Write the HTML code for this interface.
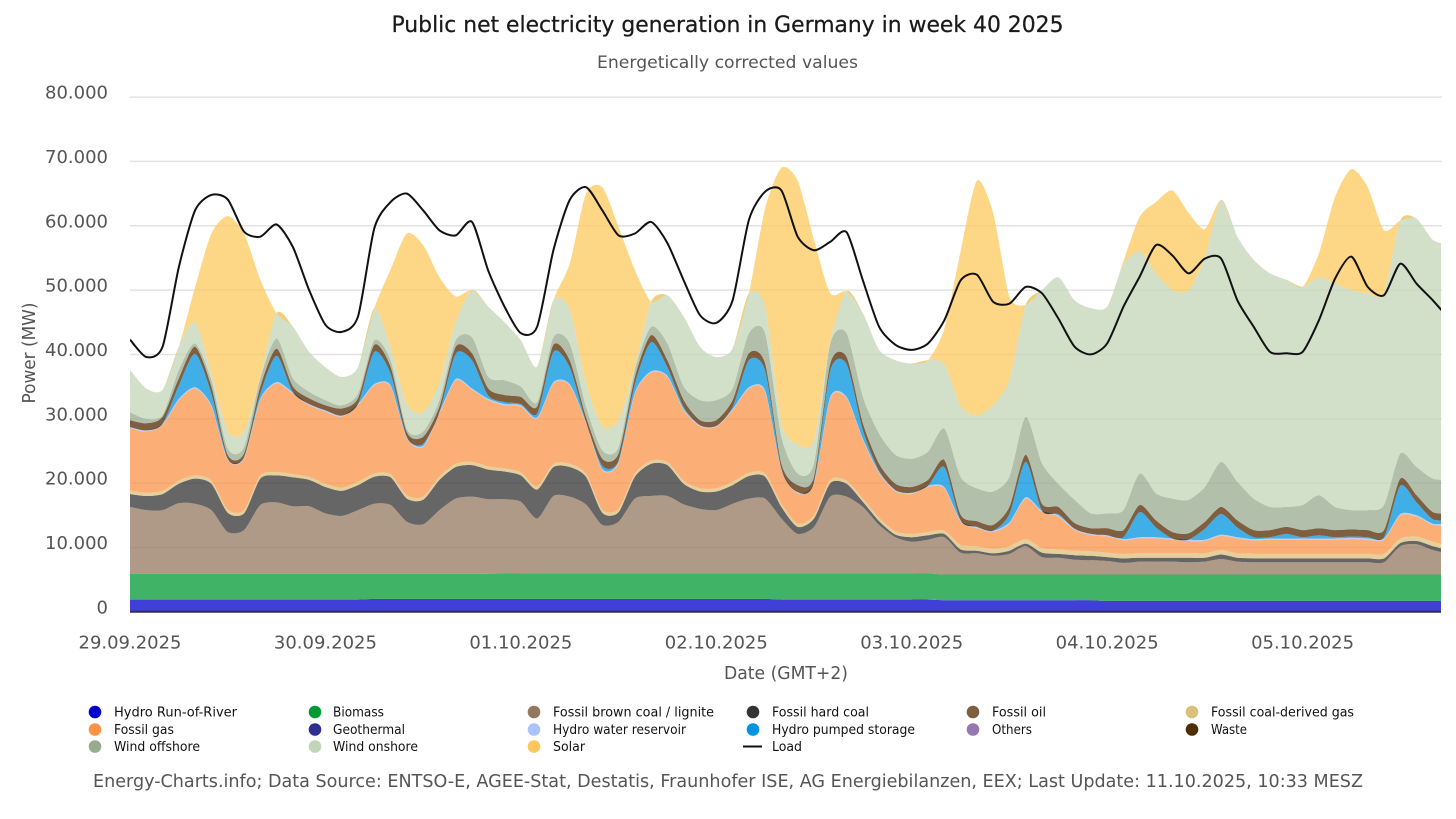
<!DOCTYPE html>
<html lang="en">
<head>
<meta charset="utf-8">
<title>Public net electricity generation in Germany in week 40 2025</title>
<style>
html,body{margin:0;padding:0;background:#fff;width:1456px;height:819px;overflow:hidden}
svg{display:block;font-family:"DejaVu Sans","Liberation Sans",sans-serif}
.leg{font-size:13.5px;fill:#111}
</style>
</head>
<body>
<svg id="chart" xmlns="http://www.w3.org/2000/svg" width="1456" height="819" viewBox="0 0 1456 819">
  <defs><clipPath id="plot-clip"><rect x="130" y="80" width="1311" height="531"/></clipPath></defs>
  <rect x="0" y="0" width="1456" height="819" fill="#fff"/>
  <text x="727.5" y="32" text-anchor="middle" font-size="22.5" fill="#1a1a1a" stroke="#1a1a1a" stroke-width="0.25" textLength="672" lengthAdjust="spacingAndGlyphs">Public net electricity generation in Germany in week 40 2025</text>
  <text x="727.5" y="68" text-anchor="middle" font-size="17" fill="#555" textLength="261" lengthAdjust="spacingAndGlyphs">Energetically corrected values</text>
  <g id="grid"></g>
  <g id="areas" clip-path="url(#plot-clip)"></g>
  <g id="line" clip-path="url(#plot-clip)"></g>
  <line x1="130" x2="1441" y1="611.8" y2="611.8" stroke="#333" stroke-width="2"/>
  <g id="yticks"></g>
  <g id="xticks"></g>
  <text transform="translate(35,353) rotate(-90)" text-anchor="middle" font-size="17.5" fill="#555" textLength="101" lengthAdjust="spacingAndGlyphs">Power (MW)</text>
  <text x="786" y="679" text-anchor="middle" font-size="17.5" fill="#555" textLength="124" lengthAdjust="spacingAndGlyphs">Date (GMT+2)</text>

  <g>
    <g><circle cx="95" cy="712" r="6.3" fill="#0000cc"/><text class="leg" x="114" y="716.5" textLength="123" lengthAdjust="spacingAndGlyphs">Hydro Run-of-River</text></g>
    <g><circle cx="315" cy="712" r="6.3" fill="#009933"/><text class="leg" x="333" y="716.5" textLength="51" lengthAdjust="spacingAndGlyphs">Biomass</text></g>
    <g><circle cx="534" cy="712" r="6.3" fill="#93785d"/><text class="leg" x="553" y="716.5" textLength="161" lengthAdjust="spacingAndGlyphs">Fossil brown coal / lignite</text></g>
    <g><circle cx="753" cy="712" r="6.3" fill="#333333"/><text class="leg" x="772" y="716.5" textLength="97" lengthAdjust="spacingAndGlyphs">Fossil hard coal</text></g>
    <g><circle cx="973" cy="712" r="6.3" fill="#7d5f42"/><text class="leg" x="992" y="716.5" textLength="54" lengthAdjust="spacingAndGlyphs">Fossil oil</text></g>
    <g><circle cx="1192" cy="712" r="6.3" fill="#dcbf79"/><text class="leg" x="1211" y="716.5" textLength="143" lengthAdjust="spacingAndGlyphs">Fossil coal-derived gas</text></g>

    <g><circle cx="95" cy="729.5" r="6.3" fill="#f99348"/><text class="leg" x="114" y="734" textLength="60" lengthAdjust="spacingAndGlyphs">Fossil gas</text></g>
    <g><circle cx="315" cy="729.5" r="6.3" fill="#2f2f8f"/><text class="leg" x="333" y="734" textLength="72" lengthAdjust="spacingAndGlyphs">Geothermal</text></g>
    <g><circle cx="534" cy="729.5" r="6.3" fill="#aac4ff"/><text class="leg" x="553" y="734" textLength="133" lengthAdjust="spacingAndGlyphs">Hydro water reservoir</text></g>
    <g><circle cx="753" cy="729.5" r="6.3" fill="#0094e0"/><text class="leg" x="772" y="734" textLength="143" lengthAdjust="spacingAndGlyphs">Hydro pumped storage</text></g>
    <g><circle cx="973" cy="729.5" r="6.3" fill="#9478b0"/><text class="leg" x="992" y="734" textLength="40" lengthAdjust="spacingAndGlyphs">Others</text></g>
    <g><circle cx="1192" cy="729.5" r="6.3" fill="#4f2d00"/><text class="leg" x="1211" y="734" textLength="36" lengthAdjust="spacingAndGlyphs">Waste</text></g>

    <g><circle cx="95" cy="746.5" r="6.3" fill="#98ab8f"/><text class="leg" x="114" y="751" textLength="86" lengthAdjust="spacingAndGlyphs">Wind offshore</text></g>
    <g><circle cx="315" cy="746.5" r="6.3" fill="#c3d5b8"/><text class="leg" x="333" y="751" textLength="85" lengthAdjust="spacingAndGlyphs">Wind onshore</text></g>
    <g><circle cx="534" cy="746.5" r="6.3" fill="#fcc85d"/><text class="leg" x="553" y="751" textLength="32" lengthAdjust="spacingAndGlyphs">Solar</text></g>
    <g><line x1="743" x2="762" y1="746.5" y2="746.5" stroke="#111" stroke-width="2"/><text class="leg" x="772" y="751" textLength="30" lengthAdjust="spacingAndGlyphs">Load</text></g>
  </g>

  <text x="93" y="787" font-size="17.5" fill="#555" textLength="1270" lengthAdjust="spacingAndGlyphs">Energy-Charts.info; Data Source: ENTSO-E, AGEE-Stat, Destatis, Fraunhofer ISE, AG Energiebilanzen, EEX; Last Update: 11.10.2025, 10:33 MESZ</text>
</svg>
<script>
// All series values are in GW, one sample every two hours from 29.09.2025 00:00.
const sampleStepHours = 2;
const yTickValues = [0, 10, 20, 30, 40, 50, 60, 70, 80];
const yTickLabels = ['0', '10.000', '20.000', '30.000', '40.000', '50.000', '60.000', '70.000', '80.000'];
const xTickHours = [0, 24, 48, 72, 96, 120, 144];
const xTickLabels = ['29.09.2025', '30.09.2025', '01.10.2025', '02.10.2025', '03.10.2025', '04.10.2025', '05.10.2025'];

const hydroRunOfRiver = [
1.9,1.9,1.9,1.9,1.9,1.9,1.9,1.9,1.9,1.9,
1.9,1.9,1.9,1.9,1.9,2.0,2.0,2.0,2.0,2.0,
2.0,2.0,2.0,2.0,2.0,2.0,2.0,2.0,2.0,2.0,
2.0,2.0,2.0,2.0,2.0,2.0,2.0,2.0,2.0,2.0,
1.9,1.9,1.9,1.9,1.9,1.9,1.9,1.9,1.9,1.9,
1.8,1.8,1.8,1.8,1.8,1.8,1.8,1.8,1.8,1.8,
1.7,1.7,1.7,1.7,1.7,1.7,1.7,1.7,1.7,1.7,
1.7,1.7,1.7,1.7,1.7,1.7,1.7,1.7,1.7,1.7,
1.7,1.7];
const biomass = [
4.0,4.0,4.0,4.0,4.0,4.0,4.0,4.0,4.0,4.0,
4.0,4.0,4.0,4.0,4.0,3.9,3.9,3.9,3.9,3.9,
3.9,3.9,3.9,4.0,4.0,4.0,4.0,4.0,4.0,4.0,
4.0,4.0,4.0,4.0,4.0,4.0,4.0,4.0,4.0,4.0,
4.1,4.1,4.1,4.1,4.1,4.1,4.1,4.1,4.1,4.1,
4.0,4.0,4.0,4.0,4.0,4.0,4.0,4.0,4.0,4.0,
4.1,4.1,4.1,4.1,4.1,4.1,4.1,4.1,4.1,4.1,
4.1,4.1,4.1,4.1,4.1,4.1,4.1,4.1,4.1,4.1,
4.1,4.1];
const brownCoal = [
10.4,9.9,9.9,11.0,10.9,9.9,6.5,6.8,10.7,11.1,
10.5,10.5,9.4,9.0,9.9,10.9,10.7,8.1,7.7,9.9,
11.7,12.0,11.6,11.5,11.1,8.5,12.0,11.9,10.7,7.5,
8.0,11.6,12.0,12.0,10.7,10.0,9.8,10.8,11.6,11.6,
8.5,6.1,7.2,11.9,11.9,10.3,7.5,5.6,4.9,5.2,
5.8,3.4,3.3,2.9,3.2,4.4,2.7,2.6,2.3,2.2,
2.1,1.8,2.0,2.0,2.0,1.9,2.0,2.4,2.0,1.9,
1.9,1.9,1.9,1.9,1.9,1.9,1.9,1.9,4.4,4.7,
3.8,3.2];
const hardCoal = [
2.0,2.2,2.5,3.0,3.9,4.1,3.0,2.6,4.1,4.2,
4.5,4.1,4.1,3.9,3.9,4.2,4.3,3.6,3.8,4.7,
4.9,4.9,4.6,4.3,4.1,4.5,4.5,4.6,4.3,1.9,
1.5,3.4,5.0,4.8,3.2,2.7,2.9,2.9,3.5,3.4,
1.8,1.1,1.3,2.1,2.0,0.8,0.6,0.4,0.7,0.7,
0.5,0.5,0.4,0.4,0.5,0.4,0.7,0.6,0.7,0.7,
0.6,0.7,0.6,0.6,0.6,0.7,0.6,0.7,0.6,0.6,
0.6,0.6,0.6,0.6,0.6,0.6,0.6,0.6,0.5,0.5,
0.6,0.6];
const coalDerivedGas = [
0.5,0.5,0.5,0.5,0.5,0.5,0.5,0.5,0.5,0.5,
0.5,0.5,0.5,0.5,0.5,0.5,0.5,0.5,0.5,0.5,
0.5,0.5,0.5,0.5,0.5,0.5,0.5,0.5,0.5,0.5,
0.5,0.5,0.5,0.5,0.5,0.5,0.5,0.5,0.5,0.5,
0.5,0.5,0.5,0.5,0.5,0.5,0.5,0.5,0.5,0.5,
0.5,0.7,0.7,0.7,0.7,0.7,0.7,0.7,0.7,0.7,
0.7,0.7,0.7,0.7,0.7,0.7,0.7,0.7,0.7,0.7,
0.7,0.7,0.7,0.7,0.7,0.7,0.7,0.7,0.7,0.7,
0.7,0.7];
const fossilGas = [
9.7,9.5,10.2,12.5,13.5,11.5,7.7,8.0,11.7,13.8,
12.5,11.1,11.2,11.0,11.9,13.7,13.6,8.8,7.7,9.8,
13.0,11.2,10.3,9.8,10.2,10.5,12.5,12.2,7.8,6.1,
7.1,12.4,13.7,13.2,10.9,9.6,9.5,11.1,13.1,12.7,
5.2,4.7,4.9,12.7,12.8,9.1,6.9,6.2,6.2,7.0,
6.6,3.6,2.8,2.6,3.5,6.3,5.6,5.1,3.2,2.5,
2.5,2.1,2.3,2.3,2.1,1.9,1.9,2.2,2.3,2.1,
2.2,2.2,2.2,2.2,2.2,2.3,2.2,2.2,3.6,3.1,
2.6,3.2];
const hydroReservoir = [
0.2,0.2,0.2,0.2,0.2,0.2,0.2,0.2,0.2,0.2,
0.2,0.2,0.2,0.2,0.2,0.2,0.2,0.2,0.2,0.2,
0.2,0.2,0.2,0.2,0.2,0.2,0.2,0.2,0.2,0.2,
0.2,0.2,0.2,0.2,0.2,0.2,0.2,0.2,0.2,0.2,
0.2,0.2,0.2,0.2,0.2,0.2,0.2,0.2,0.2,0.2,
0.2,0.2,0.2,0.2,0.2,0.2,0.2,0.2,0.2,0.2,
0.2,0.2,0.2,0.2,0.2,0.2,0.2,0.2,0.2,0.2,
0.2,0.2,0.2,0.2,0.2,0.2,0.2,0.2,0.2,0.2,
0.2,0.2];
const pumpedStorage = [
0,0,0,2.1,5.2,1.8,0,0,0.8,4.1,
0,0,0,0,0,5.0,1.8,0,0.3,0,
3.9,4.4,0.5,0.3,0.2,0.6,4.7,2.6,0,0.5,
0.2,1.3,4.5,1.3,0.3,0,0,0.3,4.2,3.1,
0,0,0,4.1,5.1,1.3,0.2,0,0,0,
3.1,0,0,0,1.3,5.5,0,0.2,0,0,
0,0.3,3.9,1.5,0,0,1.7,3.2,1.5,0.3,
0.2,0.7,0.2,0.5,0.2,0.2,0.2,0.2,4.4,2.0,
0.7,0.5];
const wasteAndOil = [
1.1,1.1,1.1,1.1,1.1,1.1,0.6,0.6,1.1,1.1,
0.9,0.9,0.8,1.1,0.9,1.1,1.1,0.8,1.1,0.9,
1.1,1.1,1.1,1.1,1.1,1.1,1.1,1.1,0.8,1.1,
1.1,1.1,1.1,1.1,1.1,0.8,0.9,1.1,1.1,1.1,
0.8,1.1,0.9,1.1,1.1,1.1,1.1,1.0,0.9,0.9,
1.1,0.9,0.9,0.9,1.1,1.1,1.1,1.1,0.9,0.9,
1.1,1.1,1.1,1.1,1.0,1.0,1.1,1.1,1.1,1.1,
1.1,1.1,1.1,1.1,1.1,1.1,1.1,1.1,1.1,1.1,
1.1,1.1];
const windOffshore = [
1.2,0.7,0.3,1.3,0.5,1,1,1,1.3,1.6,
1.3,1,0.8,0.5,0.7,0.7,1,0.5,0.8,1,
1,2.5,1.8,2.3,1.6,0.7,1.2,2.6,1.6,1.3,
1,1.1,1.3,2.6,2.1,3.1,3.1,1.8,3.1,4.7,
4.2,1.8,2.1,3.1,3.7,4.1,4.7,4.5,4.4,4.4,
4.9,5.9,5.1,5.2,4.7,5.9,6.3,3.6,3.6,2.3,
2.3,3.1,4.9,4.2,5.2,5.2,5.4,7,6,4.9,
3.6,3.1,3.9,5.1,3.6,3,3.1,3.9,3.9,4.4,
5.2,5.2];
const windOnshore = [
6.6,4.7,3.9,3.6,3.3,1,2.6,2.4,0.2,3.9,
8,6.2,5.1,4.4,4.1,5,1.9,3.8,3,2.6,
2.8,7.3,10.9,9,7.2,5.5,5.7,5.3,3.6,3.7,
4.2,0.4,3.9,7.5,10.9,8.3,6.7,6.2,6.2,4.1,
2.1,4.5,3.6,0.3,6.5,13,13,14.7,14.8,14.2,
10,11,11.3,13.4,15,17.4,26.9,32.1,31,31.9,
32.1,38.2,34.5,34.2,32.4,32.6,35.6,40.7,38.1,37.1,
36.3,35.3,33.9,33.9,34.7,34.2,33.7,32.9,36.2,38.6,
37.1,36.5];
const solar = [
0,0,0,0,5.5,21.8,33.5,30.8,15.1,0,
0,0,0,0,0,0,12.2,26.6,26,16.5,
4,0,0,0,0,0,0,7.1,29.5,37.2,
30,15.1,0,0,0,0,0,0,0,15.3,
39.7,41,31.1,7.5,0,0,0,0,0,0,
5.5,24,36.5,29.9,13,0,0,0,0,0,
0,0.5,5.4,11.1,15.5,12,4.5,0,0,0,
0,0,0,3.7,13.5,18.8,16.5,9.8,0,0,
0,0];
const loadValues = [
42.3,39.6,41.2,53.6,62.4,64.8,64.1,59.1,58.3,60.2,
56.7,50,44.6,43.5,45.9,59.6,63.7,65,62.4,59.3,
58.5,60.6,53,47.4,43.3,44.3,56.2,64,66,62.4,
58.5,58.8,60.6,57.3,51.5,46.1,44.9,48.4,60.9,65.3,
65.5,58.3,56.2,57.5,59,51.5,44.3,41.5,40.7,41.7,
45.3,51.5,52.4,48.2,47.9,50.5,49.5,45.6,41.2,40,
41.7,47.4,52.1,57,55.4,52.6,54.9,54.9,48.4,44.3,
40.4,40.2,40.4,45.3,51.8,55.2,50.5,49.2,54.1,51,
48.4,45.5];

const SVGNS = 'http://www.w3.org/2000/svg';
const xScale = h => 130 + h * (1441 - 130) / 161;
const yScale = v => 611.8 - v * 6.434;

// Smooth cubic segments through a list of [x, y] points.
function curveThrough(pts) {
  const k = 1 / 8;
  let d = '';
  for (let i = 0; i < pts.length - 1; i++) {
    const p0 = pts[Math.max(i - 1, 0)];
    const p1 = pts[i];
    const p2 = pts[i + 1];
    const p3 = pts[Math.min(i + 2, pts.length - 1)];
    const c1x = p1[0] + (p2[0] - p0[0]) * k;
    const c1y = p1[1] + (p2[1] - p0[1]) * k;
    const c2x = p2[0] - (p3[0] - p1[0]) * k;
    const c2y = p2[1] - (p3[1] - p1[1]) * k;
    d += 'C' + c1x.toFixed(1) + ',' + c1y.toFixed(1) + ' ' + c2x.toFixed(1) + ',' + c2y.toFixed(1) + ' ' + p2[0].toFixed(1) + ',' + p2[1].toFixed(1);
  }
  return d;
}

function drawGrid() {
  const grid = document.getElementById('grid');
  const labels = document.getElementById('yticks');
  yTickValues.forEach((v, i) => {
    if (v > 0) {
      const ln = document.createElementNS(SVGNS, 'line');
      
      
      ln.setAttribute('x1', 130);
      ln.setAttribute('x2', 1442);
      ln.setAttribute('y1', yScale(v));
      ln.setAttribute('y2', yScale(v));
      ln.setAttribute('stroke', '#e3e3e3');
      ln.setAttribute('stroke-width', 1.5);
      grid.appendChild(ln);
    }
    const t = document.createElementNS(SVGNS, 'text');
    
    
    t.setAttribute('x', 108);
    t.setAttribute('y', yScale(v) + 1.5);
    t.setAttribute('text-anchor', 'end');
    t.setAttribute('font-size', 18);
    t.setAttribute('fill', '#555');
    t.textContent = yTickLabels[i];
    labels.appendChild(t);
  });
  const xl = document.getElementById('xticks');
  xTickHours.forEach((h, i) => {
    const t = document.createElementNS(SVGNS, 'text');
    
    
    t.setAttribute('x', xScale(h));
    t.setAttribute('y', 648.5);
    t.setAttribute('text-anchor', 'middle');
    t.setAttribute('font-size', 18);
    t.setAttribute('fill', '#555');
    t.setAttribute('textLength', 103);
    t.setAttribute('lengthAdjust', 'spacingAndGlyphs');
    t.textContent = xTickLabels[i];
    xl.appendChild(t);
  });
}

function drawStack() {
  const layers = [
    ['area-hydro-run-of-river', hydroRunOfRiver, '#0000cc'],
    ['area-biomass', biomass, '#009933'],
    ['area-fossil-brown-coal', brownCoal, '#93785d'],
    ['area-fossil-hard-coal', hardCoal, '#333333'],
    ['area-fossil-coal-derived-gas', coalDerivedGas, '#dcbf79'],
    ['area-fossil-gas', fossilGas, '#f99348'],
    ['area-hydro-water-reservoir', hydroReservoir, '#a8bcf0'],
    ['area-hydro-pumped-storage', pumpedStorage, '#0094e0'],
    ['area-waste-and-oil', wasteAndOil, '#542900'],
    ['area-wind-offshore', windOffshore, '#98ab8f'],
    ['area-wind-onshore', windOnshore, '#c3d5b8'],
    ['area-solar', solar, '#fcc85d']
  ];
  const host = document.getElementById('areas');
  let base = loadValues.map(() => 0);
  layers.forEach(([name, values, color]) => {
    const top = values.map((v, i) => base[i] + v);
    const upper = top.map((v, i) => [xScale(i * sampleStepHours), yScale(v)]);
    const lower = base.map((v, i) => [xScale(i * sampleStepHours), yScale(v)]).reverse();
    const p = document.createElementNS(SVGNS, 'path');
    
    
    p.setAttribute('d', 'M' + upper[0][0].toFixed(1) + ',' + upper[0][1].toFixed(1) + curveThrough(upper) + 'L' + lower[0][0].toFixed(1) + ',' + lower[0][1].toFixed(1) + curveThrough(lower) + 'Z');
    p.setAttribute('fill', color);
    p.setAttribute('fill-opacity', 0.75);
    host.appendChild(p);
    base = top;
  });
}

function drawLoad() {
  const pts = loadValues.map((v, i) => [xScale(i * sampleStepHours), yScale(v)]);
  const p = document.createElementNS(SVGNS, 'path');
  
  
  p.setAttribute('d', 'M' + pts[0][0].toFixed(1) + ',' + pts[0][1].toFixed(1) + curveThrough(pts));
  p.setAttribute('fill', 'none');
  p.setAttribute('stroke', '#111');
  p.setAttribute('stroke-width', 2);
  p.setAttribute('stroke-linejoin', 'round');
  document.getElementById('line').appendChild(p);
}

drawGrid();
drawStack();
drawLoad();
</script>
</body>
</html>
